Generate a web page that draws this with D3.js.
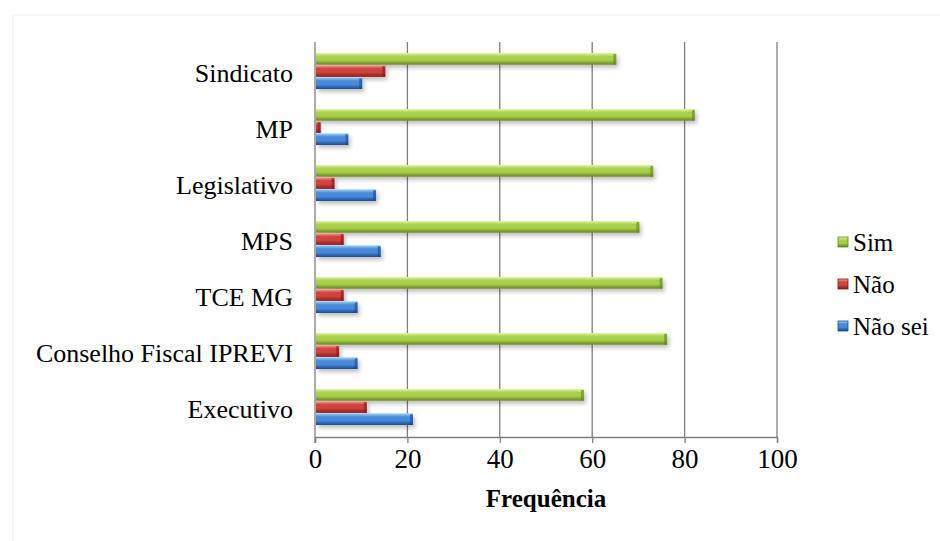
<!DOCTYPE html>
<html lang="pt">
<head>
    <meta charset="UTF-8">
    <title>Frequência</title>
    <script src="https://d3js.org/d3.v7.min.js"></script>
    <style>
        body { margin: 0; background: #fff; }
        svg text { font-family: "Liberation Serif", "DejaVu Serif", serif !important; fill: #000; }
    </style>
</head>
<body>
<svg id="chart" width="940" height="541"></svg>
<script>
    // data
    var categories = ["Sindicato", "MP", "Legislativo", "MPS", "TCE MG", "Conselho Fiscal IPREVI", "Executivo"];
    var series = ["Sim", "Não", "Não sei"];
    var sim    = [65, 82, 73, 70, 75, 76, 58];
    var nao    = [15, 1, 4, 6, 6, 5, 11];
    var naoSei = [10, 7, 13, 14, 9, 9, 21];
    var xTicks = [0, 20, 40, 60, 80, 100];

    var values = [sim, nao, naoSei];

    // colours: light top, main, dark bottom
    var colors = [
        {id: "g0", top: "#e2f5a6", mid: "#a9d04c", bot: "#668520"},
        {id: "g1", top: "#f5a3a0", mid: "#d2433c", bot: "#861a1a"},
        {id: "g2", top: "#a6d3fa", mid: "#4a8bd9", bot: "#1b4a90"}
    ];

    var serif = "'Liberation Serif', 'DejaVu Serif', serif";

    var svg = d3.select("#chart");

    // faint outer frame
    svg.append("path")
        .attr("d", "M13,541 L13,15 L940,15")
        .attr("fill", "none")
        .attr("stroke", "#eeeeee")
        .attr("stroke-width", 1);

    var defs = svg.append("defs");

    colors.forEach(function(c) {
        var g = defs.append("linearGradient")
            .attr("id", c.id)
            .attr("x1", 0).attr("y1", 0).attr("x2", 0).attr("y2", 1);
        g.append("stop").attr("offset", "0%").attr("stop-color", c.top);
        g.append("stop").attr("offset", "30%").attr("stop-color", c.mid);
        g.append("stop").attr("offset", "60%").attr("stop-color", c.mid);
        g.append("stop").attr("offset", "100%").attr("stop-color", c.bot);
    });

    var f = defs.append("filter").attr("id", "shadow")
        .attr("x", "-10%").attr("y", "-50%").attr("width", "130%").attr("height", "250%");
    f.append("feDropShadow")
        .attr("dx", 2).attr("dy", 3).attr("stdDeviation", 2)
        .attr("flood-color", "#000").attr("flood-opacity", 0.25);

    // scales
    var x = d3.scaleLinear().domain([0, 100]).range([315, 777]);

    var y0 = d3.scaleBand()
        .domain(categories)
        .range([43, 435])
        .paddingInner(0.34)
        .paddingOuter(0.17);

    var y1 = d3.scaleBand()
        .domain(series)
        .range([0, y0.bandwidth()])
        .padding(0.04);

    var plotTop = 42, plotBottom = 437;

    // vertical grid lines
    svg.append("g").selectAll("line")
        .data(xTicks.slice(1))
        .enter().append("line")
        .attr("x1", function(d) { return x(d); })
        .attr("x2", function(d) { return x(d); })
        .attr("y1", plotTop)
        .attr("y2", plotBottom)
        .attr("stroke", "#808080")
        .attr("stroke-width", 1.3);

    // x axis
    var xAxis = svg.append("g")
        .attr("transform", "translate(0," + plotBottom + ")")
        .call(d3.axisBottom(x).tickValues(xTicks).tickSize(6).tickPadding(6));
    xAxis.attr("font-family", null);
    xAxis.select(".domain").attr("stroke", "#808080").attr("stroke-width", 1.3);
    xAxis.selectAll(".tick line").attr("stroke", "#808080").attr("stroke-width", 1.3);
    xAxis.selectAll("text")
        .style("font-family", serif)
        .attr("font-size", 27)
        .attr("fill", "#000");

    // y axis line
    svg.append("line")
        .attr("x1", x(0)).attr("x2", x(0))
        .attr("y1", plotTop).attr("y2", plotBottom + 6)
        .attr("stroke", "#808080")
        .attr("stroke-width", 1.3);

    // category labels
    svg.append("g").selectAll("text")
        .data(categories)
        .enter().append("text")
        .attr("x", 293)
        .attr("y", function(d) { return y0(d) + y0.bandwidth() / 2 + 2; })
        .attr("dy", "0.35em")
        .attr("text-anchor", "end")
        .attr("font-size", 26)
        .style("font-family", serif)
        .text(function(d) { return d; });

    // bars
    var groups = svg.append("g").selectAll("g")
        .data(categories)
        .enter().append("g")
        .attr("transform", function(d) { return "translate(0," + y0(d) + ")"; });

    groups.selectAll("g.bar")
        .data(function(d, i) {
            return series.map(function(s, k) { return {s: s, k: k, v: values[k][i]}; });
        })
        .enter().append("g")
        .attr("class", "bar")
        .each(function(d) {
            var g = d3.select(this);
            var w = x(d.v) - x(0);
            var yy = y1(d.s), h = y1.bandwidth();
            g.append("rect")
                .attr("x", x(0) + 1)
                .attr("y", yy)
                .attr("width", w)
                .attr("height", h)
                .attr("fill", "url(#" + colors[d.k].id + ")")
                .attr("filter", "url(#shadow)");
            // darker bevel at bar end
            g.append("rect")
                .attr("x", x(0) + 1 + Math.max(w - 3, 0))
                .attr("y", yy + 1)
                .attr("width", Math.min(3, w))
                .attr("height", h - 1)
                .attr("fill", colors[d.k].bot)
                .attr("opacity", 0.6);
        });

    // axis title
    svg.append("text")
        .attr("x", 546)
        .attr("y", 507)
        .attr("text-anchor", "middle")
        .attr("font-size", 25)
        .attr("font-weight", "bold")
        .style("font-family", serif)
        .text("Frequência");

    // legend
    var legend = svg.append("g").selectAll("g")
        .data(series)
        .enter().append("g")
        .attr("transform", function(d, i) { return "translate(838," + (242 + i * 42) + ")"; });

    legend.append("rect")
        .attr("x", 0).attr("y", -5)
        .attr("width", 10).attr("height", 10)
        .attr("fill", function(d, i) { return "url(#" + colors[i].id + ")"; })
        .attr("stroke", function(d, i) { return colors[i].bot; })
        .attr("stroke-width", 0.8);

    legend.append("text")
        .attr("x", 15)
        .attr("y", 0)
        .attr("dy", "0.35em")
        .attr("font-size", 25)
        .style("font-family", serif)
        .text(function(d) { return d; });
</script>
</body>
</html>
